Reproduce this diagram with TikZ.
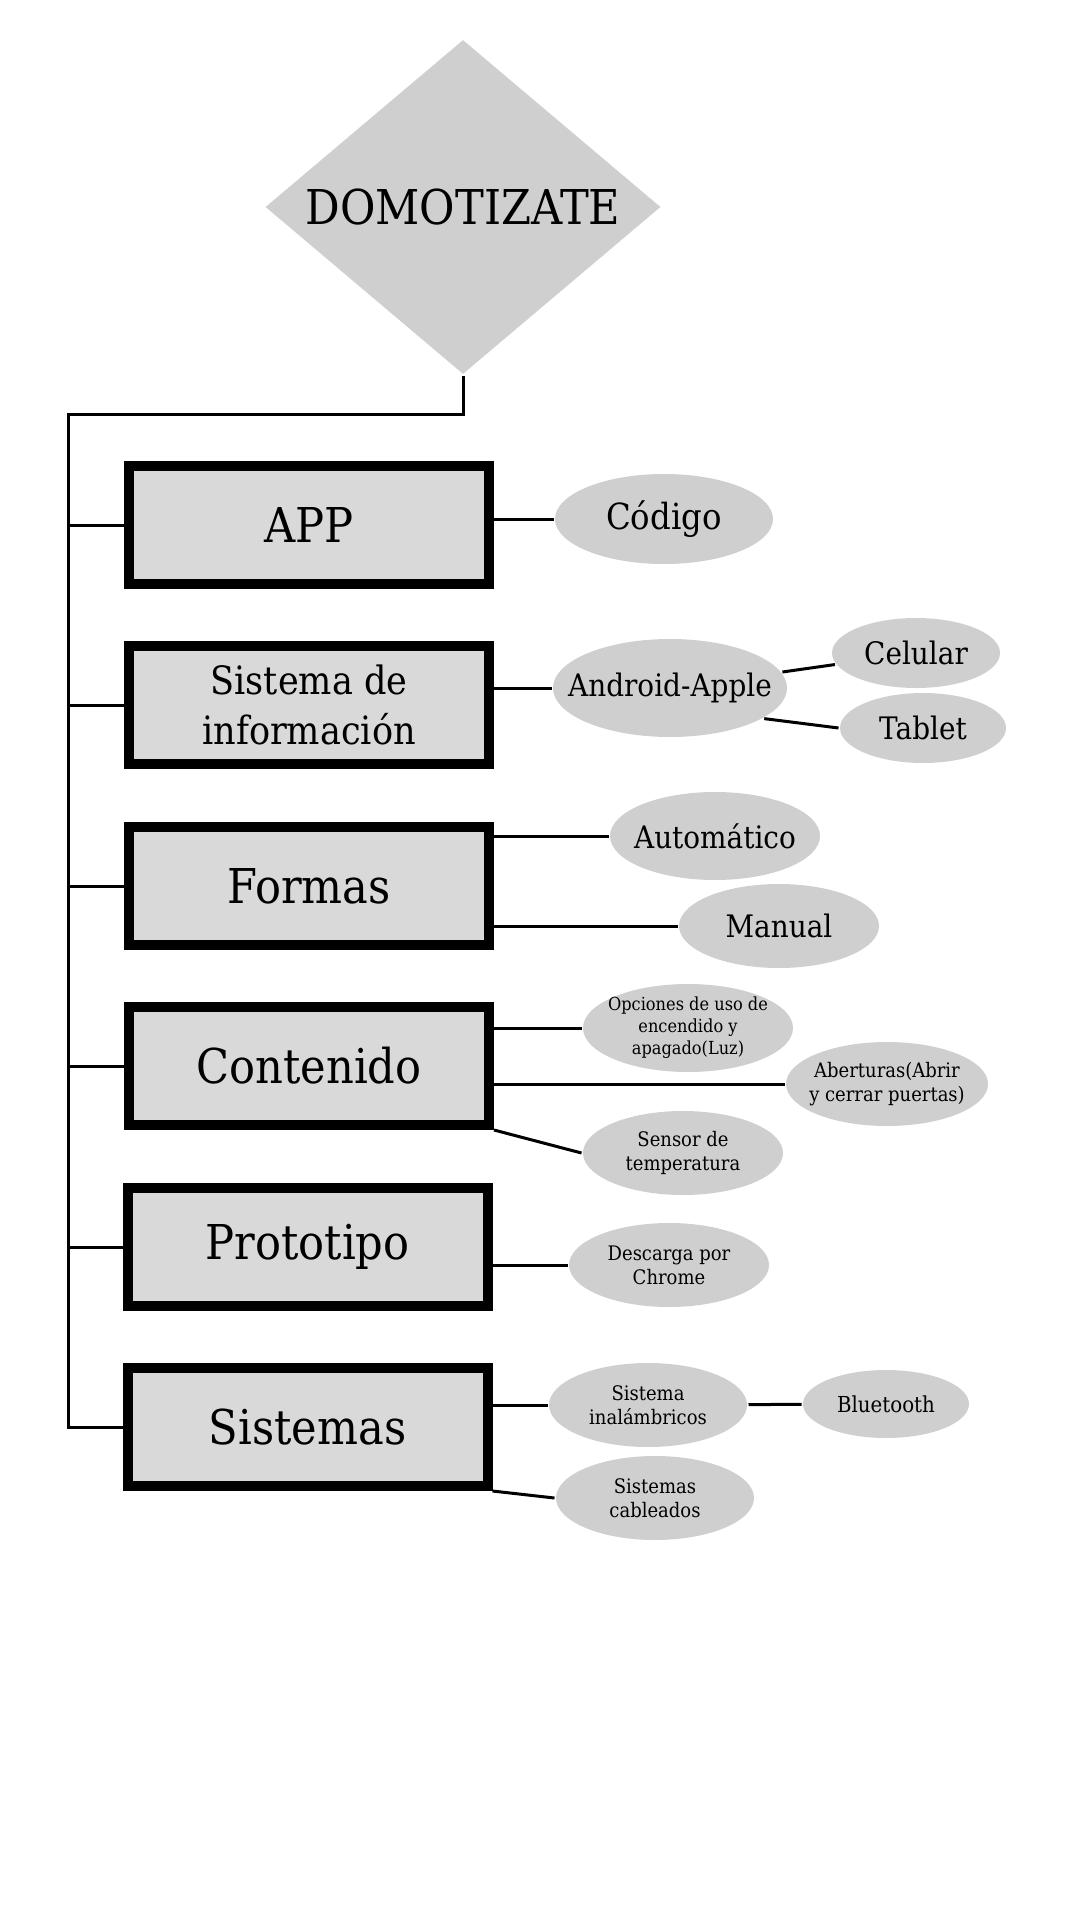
\documentclass[tikz,border=0pt]{standalone}
\usepackage{fontspec}
\setmainfont{DejaVu Serif}[FakeStretch=0.9]
\usetikzlibrary{shapes.geometric, positioning}
\definecolor{box_gray}{HTML}{D9D9D9}
\definecolor{bubble_gray}{HTML}{CFCFCF}

\begin{document}
\begin{tikzpicture}[x=0.5pt, y=-0.5pt, line width=1.5pt]
        \tikzset{
            topic/.style={draw, line width=5pt, fill=box_gray, minimum width=180pt, minimum height=59pt, inner sep=0pt, font=\fontsize{24}{29}\selectfont}, % the six main boxes
            bubble/.style={ellipse, fill=bubble_gray, inner sep=0pt}, % grey ellipses, text is put in as a label
            big_text/.style={font=\fontsize{15.5}{19}\selectfont},
            small_text/.style={font=\fontsize{10}{12}\selectfont, align=center},
            }

        \useasboundingbox (0,0) rectangle (1080,1920);

        % title
        \node[diamond, aspect=1.18, fill=bubble_gray, inner sep=0pt, minimum width=198pt, minimum height=167.5pt, font=\fontsize{24}{29}\selectfont] (title_node) at (463,207) {DOMOTIZATE};

        % boxes
        \node[topic] (app_box) at (309,525) {APP};
        \node[topic, align=center, font=\fontsize{19.5}{25}\selectfont] (sdi_box) at (309,705) {Sistema de\\información};
        \node[topic] (formas_box) at (309,886) {Formas};
        \node[topic] (contenido_box) at (309,1066) {Contenido};
        \node[topic] (prototipo_box) at (307.5,1247) {Prototipo};
        \node[topic] (sistemas_box) at (307.5,1427) {Sistemas};

        % ellipses
        \node[bubble, minimum width=109pt, minimum height=45pt, label={[font=\fontsize{18}{22}\selectfont]center:Código}] (codigo_node) at (664,519) {};
        \node[bubble, minimum width=117pt, minimum height=49pt, label={[big_text]center:Android-Apple}] (android_node) at (670,688) {};
        \node[bubble, minimum width=84pt, minimum height=35pt, label={[big_text]center:Celular}] (celular_node) at (916,653) {};
        \node[bubble, minimum width=83pt, minimum height=35pt, label={[big_text]center:Tablet}] (tablet_node) at (923,728) {};
        \node[bubble, minimum width=105pt, minimum height=44pt, label={[big_text]center:Automático}] (automatico_node) at (715,836) {};
        \node[bubble, minimum width=100pt, minimum height=42pt, label={[big_text]center:Manual}] (manual_node) at (779,926) {};
        \node[bubble, minimum width=105pt, minimum height=44pt, label={[small_text, font=\fontsize{9}{11}\selectfont]center:Opciones de uso de\\encendido y\\apagado(Luz)}] (opciones_node) at (688,1028) {};
        \node[bubble, minimum width=101pt, minimum height=42pt, label={[small_text]center:Aberturas(Abrir\\y cerrar puertas)}] (aberturas_node) at (887,1084) {};
        \node[bubble, minimum width=100pt, minimum height=42pt, label={[small_text]center:Sensor de\\temperatura}] (sensor_node) at (683,1153) {};
        \node[bubble, minimum width=100pt, minimum height=42pt, label={[small_text]center:Descarga por\\Chrome}] (descarga_node) at (669,1265) {};
        \node[bubble, minimum width=99pt, minimum height=42pt, label={[small_text]center:Sistema\\inalámbricos}] (inalambricos_node) at (648,1405) {};
        \node[bubble, minimum width=83pt, minimum height=34pt, label={[small_text, font=\fontsize{11}{13}\selectfont]center:Bluetooth}] (bluetooth_node) at (886,1404) {};
        \node[bubble, minimum width=99pt, minimum height=42pt, label={[small_text]center:Sistemas\\cableados}] (cableados_node) at (655,1498) {};

        % trunk from the title down the left side
        \coordinate (trunk_top) at (68,414);
        \coordinate (trunk_bottom) at (68,1427);
        \draw (title_node.south) |- (trunk_top) -- (trunk_bottom) -- (sistemas_box.west);
        \foreach \boxname in {app_box, sdi_box, formas_box, contenido_box, prototipo_box}
            \draw (\boxname.west) -- (\boxname.west -| trunk_top);

        % box to ellipse paths
        \draw (codigo_node.west) -- (codigo_node.west -| app_box.east);
        \draw (android_node.west) -- (android_node.west -| sdi_box.east);
        \draw (automatico_node.west) -- (automatico_node.west -| formas_box.east);
        \draw (manual_node.west) -- (manual_node.west -| formas_box.east);
        \draw (opciones_node.west) -- (opciones_node.west -| contenido_box.east);
        \draw (aberturas_node.west) -- (aberturas_node.west -| contenido_box.east);
        \draw (contenido_box.south east) -- (sensor_node.west);
        \draw (descarga_node.west) -- (descarga_node.west -| prototipo_box.east);
        \draw (inalambricos_node.west) -- (inalambricos_node.west -| sistemas_box.east);
        \draw (sistemas_box.south east) -- (cableados_node.west);

        % ellipse to ellipse paths
        \path (android_node) edge (celular_node);
        \draw (android_node.-18) -- (tablet_node.west);
        \path (inalambricos_node) edge (bluetooth_node);
    \end{tikzpicture}
\end{document}
